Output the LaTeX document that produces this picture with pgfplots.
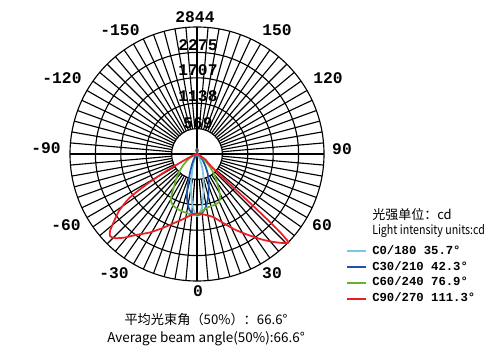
\documentclass[border=0pt]{standalone}
\usepackage{pgfplots}
\pgfplotsset{compat=1.18}
\usepackage{fontspec}
\setmainfont{Noto Sans CJK SC}
\newfontfamily\cjk{Noto Sans CJK SC}
\newfontfamily\cond[FakeStretch=0.85]{Noto Sans CJK SC}
\newfontfamily\mono{Liberation Mono}
\definecolor{cRed}{RGB}{237,28,36}
\definecolor{cGreen}{RGB}{102,178,46}
\definecolor{cBlue}{RGB}{28,84,170}
\definecolor{cLBlue}{RGB}{120,200,225}
\begin{document}
\begin{tikzpicture}
\begin{scope}[x=0.75pt,y=0.75pt]
\useasboundingbox (0,0) rectangle (500,354);
\begin{scope}[shift={(197,200)}, line width=0.85pt]
  \foreach \a in {0,5,...,355} \draw (\a:25.4) -- (\a:127);
  \foreach \r in {25.4,50.8,76.2,101.6,127} \draw (0,0) circle (\r);
  \draw (-25.4,0) -- (25.4,0) (0,-25.4) -- (0,25.4);
  \fill[gray!70!black] (0,3.5) ellipse (1.8 and 2.8);
\end{scope}
% ring and angle labels
\begin{scope}[font=\mono\bfseries\fontsize{12.2pt}{14pt}\selectfont, inner sep=0pt]
  \node at (195,337) {2844};
  \node at (198,309) {2275};
  \node at (198,284) {1707};
  \node at (198,258) {1138};
  \node at (198,231) {569};
  \node at (120,324) {-150};
  \node at (277,324) {150};
  \node at (62,276) {-120};
  \node at (328,276) {120};
  \node at (46,206) {-90};
  \node at (342,205) {90};
  \node at (66,129) {-60};
  \node at (322,129) {60};
  \node at (114,81) {-30};
  \node at (272,81) {30};
  \node at (198,63) {0};
\end{scope}
% legend
\draw[cLBlue, line width=1.5pt] (347,103) -- (366,103);
\draw[cBlue, line width=1.5pt] (347,87.3) -- (366,87.3);
\draw[cGreen, line width=1.5pt] (347,71.3) -- (366,71.3);
\draw[cRed, line width=1.5pt] (347,54.7) -- (366,54.7);
\begin{scope}[font=\mono\bfseries\fontsize{9.2pt}{11pt}\selectfont, inner sep=0pt]
  \node[anchor=base west] at (372,100) {C0/180 35.7°};
  \node[anchor=base west] at (372,84) {C30/210 42.3°};
  \node[anchor=base west] at (372,69) {C60/240 76.9°};
  \node[anchor=base west] at (372,53) {C90/270 111.3°};
\end{scope}
\node[anchor=base west, inner sep=0pt, font=\cjk\fontsize{9.75pt}{11pt}\selectfont] at (372,135) {光强单位：cd};
\node[anchor=base west, inner sep=0pt, font=\cond\fontsize{9.4pt}{11pt}\selectfont] at (372,119) {Light intensity units:cd};
\node[anchor=base, inner sep=0pt, font=\cjk\fontsize{9.9pt}{12pt}\selectfont] at (206,29.7) {平均光束角（50\%）：66.6°};
\node[anchor=base, inner sep=0pt, font=\cjk\fontsize{10.1pt}{12pt}\selectfont] at (206,12) {Average beam angle(50\%):66.6°};
\end{scope}
\begin{axis}[at={(147.75pt,150pt)}, anchor=center, scale only axis,
  width=190.5pt, height=190.5pt,
  xmin=-2844, xmax=2844, ymin=-2844, ymax=2844,
  hide axis, clip=false]
\addplot[data cs=polar, cLBlue, line width=1.3pt, smooth, tension=0.5] coordinates {
(-180,0)(-130,20)(-118,80)(-110,250)(-104.5,450)(-102,620)(-99.5,815)(-97,1000)(-94.7,1180)(-92,1330)(-90,1390)(-87.5,1330)(-84.6,1185)(-82,980)(-78.5,750)(-75,560)(-70.5,380)(-66,220)(-62,110)(-55,40)(0,0)};
\addplot[data cs=polar, cBlue, line width=1.3pt, smooth, tension=0.5] coordinates {
(-180,0)(-140,20)(-125,80)(-118,200)(-112,380)(-108.5,560)(-105.5,800)(-103,1000)(-100,1160)(-97.5,1270)(-94,1340)(-90,1365)(-87,1360)(-84,1300)(-80.5,1200)(-77,1060)(-74,930)(-72,845)(-68,700)(-64.5,590)(-61,490)(-56,350)(-52,260)(-47,185)(-40,90)(-30,30)(0,0)};
\addplot[data cs=polar, cGreen, line width=1.3pt, smooth, tension=0.5] coordinates {
(-180,0)(-160,60)(-150,200)(-147,260)(-140,420)(-135,560)(-130,720)(-126,860)(-120.5,1150)(-115.5,1265)(-107.5,1315)(-99,1345)(-92.5,1365)(-87.5,1330)(-80.5,1230)(-75,1210)(-71,1205)(-65,1180)(-61,1060)(-58,920)(-54.5,760)(-50,600)(-46,450)(-42,300)(-37,160)(-30,70)(-20,20)(0,0)};
\addplot[data cs=polar, cRed, line width=1.3pt, smooth, tension=0.4] coordinates {
(-180,0)(-165,40)(-158,120)(-154,300)(-151,800)(-149,1300)(-147,1800)(-144,2150)(-141,2390)(-138.5,2600)(-136.5,2680)(-134,2620)(-131,2480)(-127,2270)(-121,2050)(-115,1830)(-108,1620)(-102,1490)(-96,1380)(-90,1330)(-84,1360)(-76,1450)(-69,1660)(-63,1910)(-57,2180)(-52.5,2420)(-49,2610)(-46,2770)(-44,2844)(-43.2,2500)(-42.8,1800)(-42.5,1000)(-41.5,500)(-38,300)(-34,240)(-28,80)(-15,20)(0,0)};
\end{axis}
\end{tikzpicture}
\end{document}
